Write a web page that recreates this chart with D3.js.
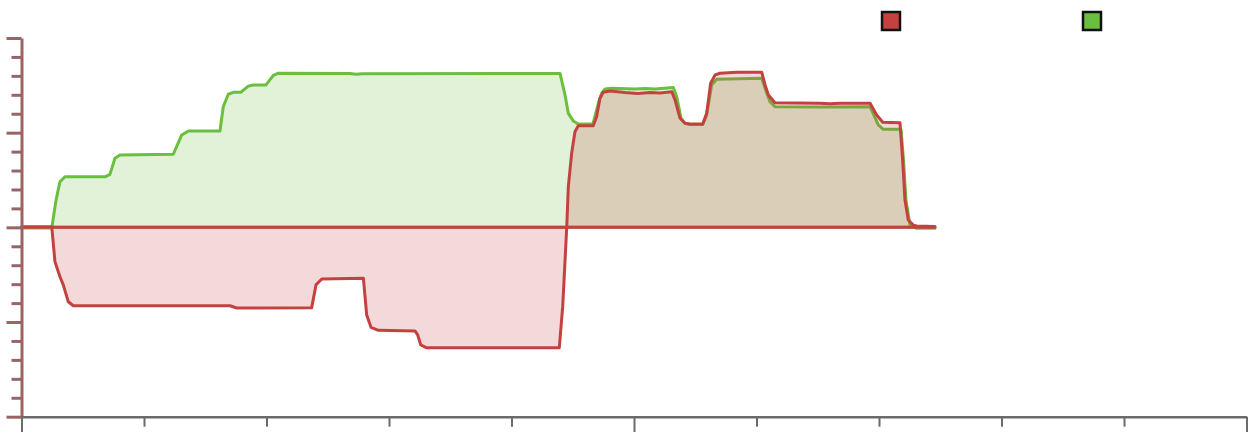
<!DOCTYPE html>
<html><head><meta charset="utf-8">
<script src="https://cdn.jsdelivr.net/npm/d3@7"></script>
<style>body{margin:0;background:#fff}svg{display:block}</style>
</head><body>
<script>
const seriesNames = ["", ""];
const seriesColors = ["#c3423f", "#6bbf3e"];
const xTicks = [0,10,20,30,40,50,60,70,80,90,100];
const yTicks = [-100,-90,-80,-70,-60,-50,-40,-30,-20,-10,0,10,20,30,40,50,60,70,80,90,100];
const greenX = [0,2.47,2.82,3.14,3.55,6.82,7.22,7.63,8.04,12.39,13.08,13.62,16.20,16.47,16.88,17.29,17.89,18.51,18.92,19.96,20.56,20.97,26.82,27.31,27.80,43.96,44.37,44.64,45.04,45.45,46.65,47.09,47.36,47.63,48.18,50.08,50.90,51.71,53.21,53.49,53.84,54.16,54.57,55.61,55.93,56.34,56.75,60.43,60.70,61.10,61.51,65.18,69.27,69.94,70.35,71.58,71.80,72.00,72.20,72.53,73.07,74.57];
const greenY = [-0.4,-0.4,14.4,24.1,26.7,26.7,28.0,36.5,38.2,38.6,48.8,50.9,50.9,63.7,70.3,71.3,71.3,74.6,75.2,75.2,80.3,81.4,81.3,80.8,81.1,81.3,69.9,60.2,56.2,54.6,54.6,65.5,70.8,73.1,73.4,73.1,73.3,73.1,73.8,69.0,57.6,55.0,54.3,54.3,59.3,75.2,78.2,78.7,73.4,66.4,63.7,63.6,63.7,54.1,51.8,51.8,51.7,35.6,14.4,1.2,-0.5,-0.5];
const redX = [0,2.47,2.73,3.14,3.41,3.82,4.23,17.02,17.57,23.69,24.04,24.51,27.91,28.18,28.53,29.13,32.12,32.34,32.59,33.08,43.90,44.18,44.51,44.64,44.91,45.18,45.45,46.67,46.95,47.22,47.49,48.04,49.26,50.32,51.31,52.12,53.08,53.35,53.76,54.16,54.57,55.61,55.93,56.26,56.62,57.02,58.38,60.43,60.70,60.97,61.51,65.18,66.00,66.82,69.27,69.81,70.31,71.71,71.93,72.12,72.39,72.80,73.07,74.57];
const redY = [0.3,0.3,-18.1,-26.1,-30.4,-39.3,-41.4,-41.4,-42.6,-42.4,-30.4,-27.3,-26.9,-46.3,-52.8,-54.4,-54.7,-56.8,-62.1,-63.6,-63.6,-41.9,0.3,21.5,39.1,50.5,53.7,53.7,58.4,68.2,71.3,72.0,71.2,70.7,71.2,71.0,71.6,67.3,57.6,55.0,54.6,54.6,60.2,76.1,80.5,81.4,81.9,81.9,75.2,69.9,65.8,65.5,65.3,65.5,65.5,59.3,55.5,55.3,35.6,14.4,3.9,1.2,0.7,0.4];

const W = 1252, H = 432;
const svg = d3.select("body").append("svg").attr("width", W).attr("height", H);
const x = d3.scaleLinear().domain([0, 100]).range([21.5, 1246.5]);
const y = d3.scaleLinear().domain([-100, 100]).range([416.7, 38]);

const green = greenX.map((d, i) => [d, greenY[i]]);
const red = redX.map((d, i) => [d, redY[i]]);

const area = d3.area().x(d => x(d[0])).y0(y(0)).y1(d => y(d[1])).curve(d3.curveLinear);

svg.append("path").datum(green).attr("d", area)
  .attr("fill", seriesColors[1]).attr("fill-opacity", 0.2)
  .attr("stroke", seriesColors[1]).attr("stroke-width", 3).attr("stroke-linejoin", "round");
svg.append("path").datum(red).attr("d", area)
  .attr("fill", seriesColors[0]).attr("fill-opacity", 0.2)
  .attr("stroke", seriesColors[0]).attr("stroke-width", 3).attr("stroke-linejoin", "round");

// Y axis
const yAxis = svg.append("g").attr("transform", `translate(${x(0)},0)`)
  .call(d3.axisLeft(y).tickValues(yTicks).tickSize(10).tickFormat("").tickSizeOuter(0));
yAxis.select(".domain").attr("stroke", "#9a6464").attr("stroke-width", 3);
yAxis.selectAll(".tick line").attr("stroke", "#9a6464").attr("stroke-width", 3)
  .attr("x2", d => (d % 50 === 0) ? -15 : -10);

// X axis
const xAxis = svg.append("g").attr("transform", `translate(0,${y(-100)})`)
  .call(d3.axisBottom(x).tickValues(xTicks).tickSize(10).tickFormat("").tickSizeOuter(0));
xAxis.select(".domain").attr("stroke", "#6b6b6b").attr("stroke-width", 2.5);
xAxis.selectAll(".tick line").attr("stroke", "#6b6b6b").attr("stroke-width", 2)
  .attr("y2", d => (d % 50 === 0) ? 16 : 10);

// Legend
const legendX = [891, 1092];
seriesColors.forEach((c, i) => {
  const g = svg.append("g").attr("transform", `translate(${legendX[i]},21)`);
  g.append("rect").attr("x", -9).attr("y", -9).attr("width", 18).attr("height", 18)
    .attr("fill", c).attr("stroke", "#111").attr("stroke-width", 2.5);
  g.append("text").attr("x", 16).attr("y", 5).attr("font-family", "Open Sans")
    .attr("font-size", 14).text(seriesNames[i]);
});
</script>
</body></html>
